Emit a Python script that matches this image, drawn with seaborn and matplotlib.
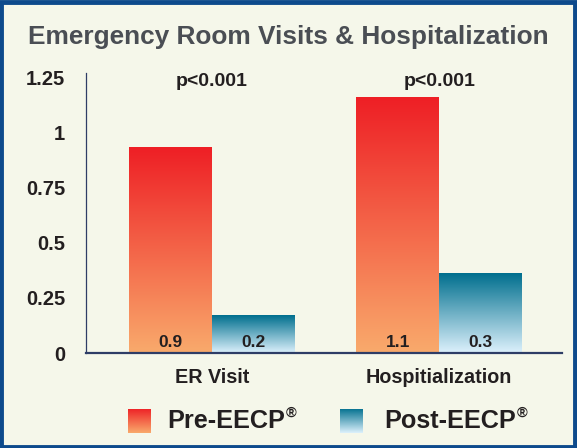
import numpy as np
import pandas as pd
import seaborn as sns
import matplotlib.pyplot as plt
from matplotlib.colors import to_rgb
from matplotlib.patches import Rectangle

# data
categories = ["ER Visit", "Hospitialization"]
periods = ["Pre-EECP", "Post-EECP"]
pre_values = [0.93, 1.16]
post_values = [0.17, 0.36]
pre_labels = ["0.9", "1.1"]
post_labels = ["0.2", "0.3"]
p_labels = ["p<0.001", "p<0.001"]
yticks = [0, 0.25, 0.5, 0.75, 1, 1.25]
ytick_labels = ["0", "0.25", "0.5", "0.75", "1", "1.25"]

df = pd.DataFrame({
    "category": categories * 2,
    "period": [periods[0]] * 2 + [periods[1]] * 2,
    "value": pre_values + post_values,
})

bg = "#f5f7ea"
text_col = "#231f20"
gradients = {
    periods[0]: ("#f9aa6c", "#ee1f25"),   # bottom, top
    periods[1]: ("#ddf1fc", "#006f8e"),
}

sns.set_theme(style="white")
plt.rcParams["font.family"] = ["Liberation Sans", "DejaVu Sans"]
plt.rcParams["font.weight"] = "bold"


def gradient_img(bottom, top, n=256):
    b = np.array(to_rgb(bottom))
    t = np.array(to_rgb(top))
    f = np.linspace(0, 1, n)[:, None]
    return (b + (t - b) * f)[:, None, :]


fig = plt.figure(figsize=(5.77, 4.48), dpi=100, facecolor=bg)
ax = fig.add_axes([0.149, 0.212, 0.825, 0.625])
ax.set_facecolor(bg)

sns.barplot(data=df, x="category", y="value", hue="period",
            hue_order=periods, order=categories, width=0.73,
            legend=False, ax=ax)

# swap flat bars for vertical gradients
all_labels = [pre_labels, post_labels]
for level, container, labels in zip(periods, ax.containers, all_labels):
    img = gradient_img(*gradients[level])
    for bar, lab in zip(container, labels):
        x0 = bar.get_x()
        w = bar.get_width()
        h = bar.get_height()
        bar.set_visible(False)
        ax.imshow(img, extent=[x0, x0 + w, 0, h], origin="lower",
                  aspect="auto", zorder=2, interpolation="bilinear")
        ax.text(x0 + w / 2, 0.05, lab, ha="center", va="center",
                fontsize=12.5, fontweight="bold", color=text_col, zorder=3)

for i, p in enumerate(p_labels):
    ax.text(i, 1.232, p, ha="center", va="center", fontsize=14,
            fontweight="bold", color=text_col)

ax.set_xlim(-0.555, 1.54)
ax.set_ylim(0, 1.27)
ax.set_yticks(yticks)
ax.set_yticklabels(ytick_labels)
ax.tick_params(axis="y", length=0, pad=15, labelsize=14.5, colors=text_col)
ax.tick_params(axis="x", length=0, pad=11, labelsize=14.2, colors=text_col)
for t in ax.get_xticklabels() + ax.get_yticklabels():
    t.set_fontweight("bold")
ax.set_xlabel("")
ax.set_ylabel("")

for side in ["top", "right"]:
    ax.spines[side].set_visible(False)
ax.spines["left"].set_color("#2e3d66")
ax.spines["left"].set_linewidth(0.9)
ax.spines["bottom"].set_color("#2e3d66")
ax.spines["bottom"].set_linewidth(1.6)

# title
fig.text(0.500, 0.918, "Emergency Room Visits & Hospitalization",
         ha="center", va="center", fontsize=18.9, fontweight="bold",
         color="#4a4e54")

# legend: gradient squares + labels with superscript ®
W, H = 577, 448
renderer = fig.canvas.get_renderer()
legend_items = [(128, 167), (340, 384)]
for level, (sx, tx) in zip(periods, legend_items):
    lax = fig.add_axes([sx / W, 1 - 433 / H, 23 / W, 24 / H])
    lax.imshow(gradient_img(*gradients[level]), origin="lower",
               aspect="auto", interpolation="bilinear")
    lax.set_axis_off()
    t = fig.text(tx / W, 1 - 421 / H, level, ha="left", va="center",
                 fontsize=18.2, fontweight="bold", color=text_col)
    bb = t.get_window_extent(renderer)
    fig.text(bb.x1 / W + 0.001, 1 - 413 / H, "®", ha="left", va="center",
             fontsize=10.5, fontweight="bold", color=text_col)

# outer frame
fig.patches.append(Rectangle((0.002, 0.003), 0.995, 0.993,
                             transform=fig.transFigure, fill=False,
                             edgecolor="#0d4a8c", linewidth=3.5))

fig.savefig("out.png", dpi=100, facecolor=bg)
